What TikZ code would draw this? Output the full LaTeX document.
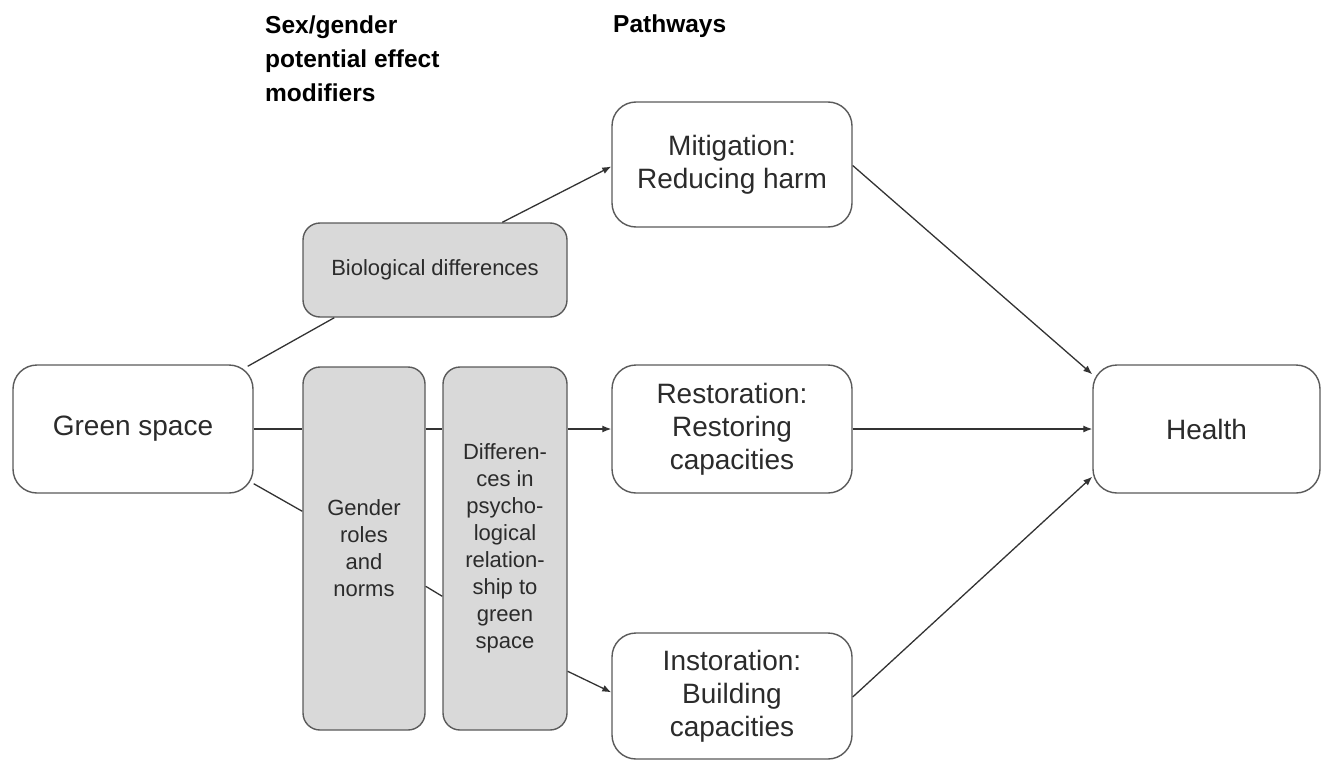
\documentclass[tikz,border=0pt]{standalone}
\usepackage{fontspec}
\setmainfont{Liberation Sans}
\usetikzlibrary{arrows.meta,calc}
\definecolor{txt}{HTML}{2B2B2B}
\definecolor{edge}{HTML}{5A5A5A}
\definecolor{lin}{HTML}{333333}
\definecolor{greyfill}{HTML}{D9D9D9}
\begin{document}
\begin{tikzpicture}[x=1pt,y=-1pt,
  whitebox/.style={draw=edge, line width=1.4pt, rounded corners=24pt, fill=white, inner sep=0pt,
    align=center, text=txt, font=\fontsize{28}{33}\selectfont},
  greybox/.style={draw=edge, line width=1.4pt, rounded corners=17pt, fill=greyfill, inner sep=0pt,
    align=center, text=txt, font=\fontsize{22}{27}\selectfont},
  header/.style={inner sep=0pt, align=left, text=black, font=\bfseries\fontsize{24.5}{34}\selectfont},
  conn/.style={draw=lin, line width=1.3pt},
  arr/.style={conn, -{Latex[length=9pt,width=7pt]}}
]
\useasboundingbox (0,0) rectangle (1322,760);

\node[header, anchor=base west] (hsex) at (265,101) {Sex/gender\\potential effect\\modifiers};
\node[header, anchor=base west] (hpath) at (613,33) {Pathways};

\node[whitebox, minimum width=240pt, minimum height=128pt] (g) at (133,429) {Green space};
\node[greybox, minimum width=264pt, minimum height=94pt] (bio) at (435,270) {Biological differences};
\node[greybox, minimum width=122pt, minimum height=363pt] (gen) at (364,548.5) {Gender\\roles\\and\\norms};
\node[greybox, minimum width=124pt, minimum height=363pt] (dif) at (505,548.5) {Differen-\\ces in\\psycho-\\logical\\relation-\\ship to\\green\\space};
\node[whitebox, minimum width=240pt, minimum height=125pt] (mit) at (732,164.5) {Mitigation:\\Reducing harm};
\node[whitebox, minimum width=240pt, minimum height=128pt] (res) at (732,429) {Restoration:\\Restoring\\capacities};
\node[whitebox, minimum width=240pt, minimum height=126pt] (ins) at (732,696) {Instoration:\\Building\\capacities};
\node[whitebox, minimum width=227pt, minimum height=128pt] (hea) at (1206.5,429) {Health};

% biological branch
\draw[conn] ($(g.north east)+(-6,2)$) -- ($(bio.south west)+(32,0)$);
\draw[arr] ($(bio.north west)+(200,0)$) -- ($(mit.west)+(0,2)$);

% middle branch
\draw[conn] (g.east) -- (g.east -| gen.west);
\draw[conn] (g.east -| gen.east) -- (g.east -| dif.west);
\draw[arr] (g.east -| dif.east) -- (res.west);

% lower branch
\draw[conn] ($(g.south east)+(0,-10)$) -- ($(gen.north west)+(0,145)$);
\draw[conn] ($(gen.north east)+(0,220)$) -- ($(dif.north west)+(0,230)$);
\draw[arr] ($(dif.north east)+(0,305)$) -- ($(ins.north west)+(0,60)$);

% to health
\draw[arr] ($(mit.east)+(0,1)$) -- ($(hea.north west)+(0,10)$);
\draw[arr] (res.east) -- (hea.west);
\draw[arr] ($(ins.east)+(0,1)$) -- ($(hea.south west)+(0,-17)$);
\end{tikzpicture}
\end{document}
